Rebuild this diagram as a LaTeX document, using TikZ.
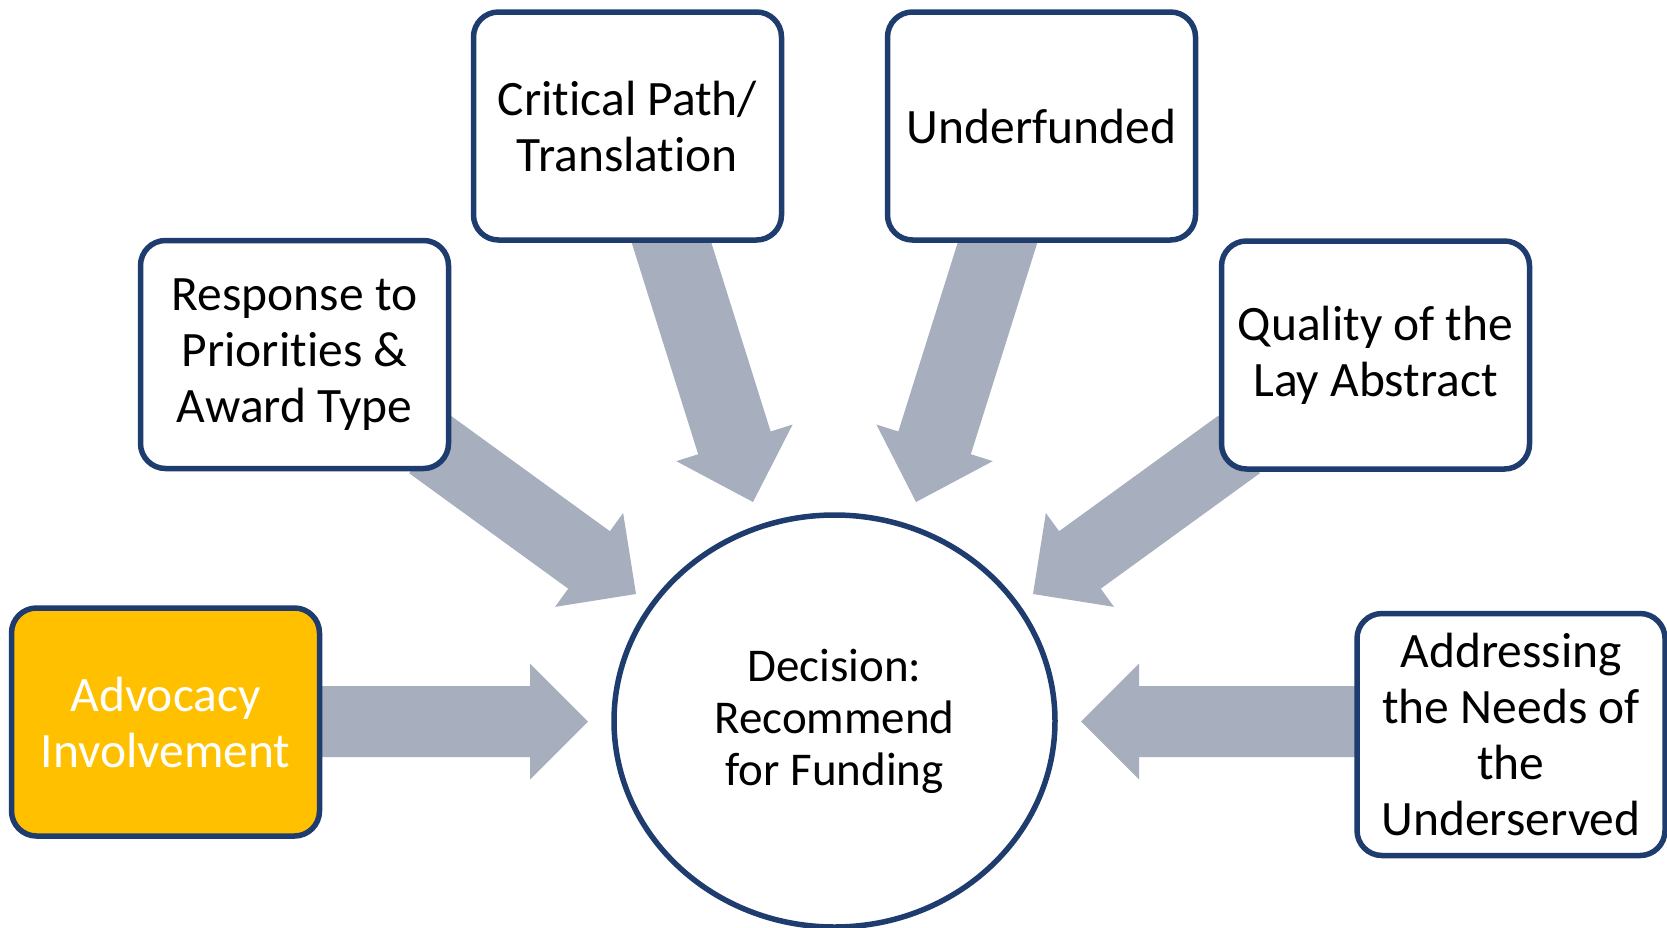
\documentclass[tikz,border=0pt]{standalone}
\usepackage{fontspec}
\setmainfont{Carlito}[RawFeature={-liga;-clig;-calt;-dlig;-hlig}]
\usetikzlibrary{calc,shapes.geometric}
\definecolor{navy}{HTML}{1F3C6E}
\definecolor{arrowgray}{HTML}{A7AEBD}
\definecolor{gold}{HTML}{FFC000}
\tikzset{
  box/.style={draw=navy, line width=5.5pt, rounded corners=25pt, fill=white,
    minimum width=308pt, minimum height=228pt, align=center, inner sep=0pt,
    font=\fontsize{49.5}{56}\selectfont},
  goldbox/.style={box, fill=gold, text=white},
  decision/.style={draw=navy, line width=5.5pt, ellipse, fill=white,
    minimum width=441pt, minimum height=412pt, align=center, inner sep=0pt,
    font=\fontsize{47}{52}\selectfont},
  blockfill/.style={fill=arrowgray}
}
% #1 tail, #2 tip, #3 half shaft width, #4 half head width, #5 head length
\newcommand{\blockarrow}[5]{%
  \path ($(#2)!#5!(#1)$) coordinate (hb);
  \fill[blockfill] ($(#1)!#3!90:(#2)$) -- ($(hb)!#3!90:(#2)$) -- ($(hb)!#4!90:(#2)$)
    -- (#2) -- ($(hb)!#4!-90:(#2)$) -- ($(hb)!#3!-90:(#2)$) -- ($(#1)!#3!-90:(#2)$) -- cycle;
}
\begin{document}
\begin{tikzpicture}[x=1pt,y=-1pt]
\useasboundingbox (0,0) rectangle (1667,927);
% arrow end points
\coordinate (advT) at (300,721.5);
\coordinate (advP) at (588,721.5);
\coordinate (addT) at (1370,721.5);
\coordinate (addP) at (1081,721.5);
\coordinate (resT) at (430,444.5);
\coordinate (resP) at (636,594);
\coordinate (quaT) at (1239,444.5);
\coordinate (quaP) at (1033,594);
\coordinate (criT) at (665,222);
\coordinate (criP) at (753,502);
\coordinate (undT) at (1004,222);
\coordinate (undP) at (916,502);
% arrows
\blockarrow{advT}{advP}{35.5pt}{58pt}{58pt}
\blockarrow{addT}{addP}{35.5pt}{58pt}{58pt}
\blockarrow{resT}{resP}{35.5pt}{58pt}{58pt}
\blockarrow{quaT}{quaP}{35.5pt}{58pt}{58pt}
\blockarrow{criT}{criP}{38pt}{61pt}{62pt}
\blockarrow{undT}{undP}{38pt}{61pt}{62pt}
% nodes
\node[decision] (dec) at (834.5,721) {Decision:\\Recommend\\for Funding};
\node[goldbox] (adv) at (165.5,722) {Advocacy\\Involvement};
\node[box] (res) at (294.5,354.5) {Response to\\Priorities \&\\Award Type};
\node[box] (cri) at (627.5,126) {Critical Path/\\Translation};
\node[box] (und) at (1041.5,126) {Underfunded};
\node[box] (qua) at (1375.5,355) {Quality of the\\Lay Abstract};
\node[box, minimum height=242pt] (add) at (1511,734.5) {Addressing\\the Needs of\\the\\Underserved};
\end{tikzpicture}
\end{document}
